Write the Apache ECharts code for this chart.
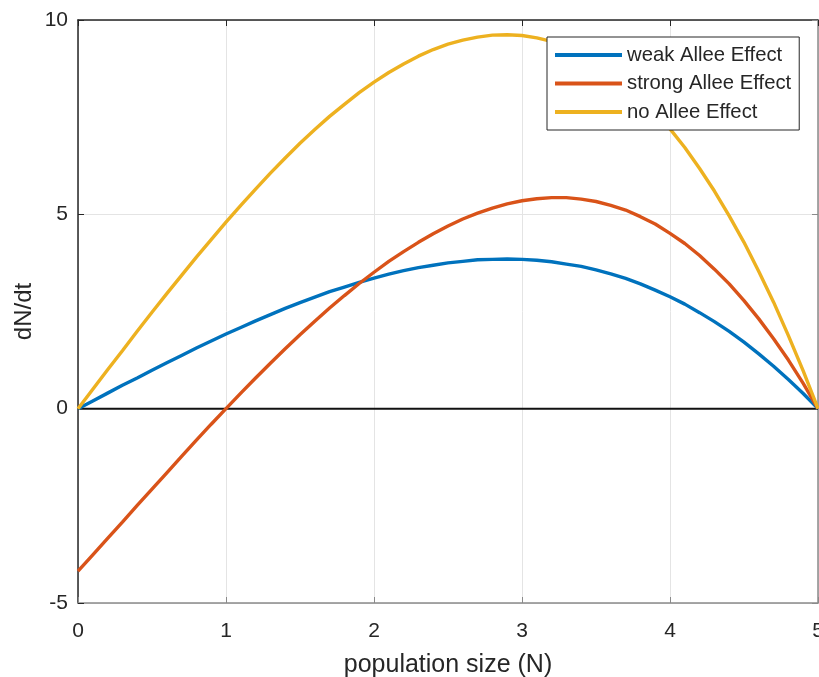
<!DOCTYPE html>
<html>
<head>
    <meta charset="utf-8">
    <title>Allee effect</title>
    <script src="https://cdn.jsdelivr.net/npm/echarts@6/dist/echarts.min.js"></script>
    <style>
        html, body { margin: 0; padding: 0; background: #fff; }
    </style>
</head>
<body>
<div id="main" style="width: 819px; height: 677px;"></div>
<script>
    // population size N, every 0.1
    var popSize = [0, 0.1, 0.2, 0.3, 0.4, 0.5, 0.6, 0.7, 0.8, 0.9,
        1, 1.1, 1.2, 1.3, 1.4, 1.5, 1.6, 1.7, 1.8, 1.9,
        2, 2.1, 2.2, 2.3, 2.4, 2.5, 2.6, 2.7, 2.8, 2.9,
        3, 3.1, 3.2, 3.3, 3.4, 3.5, 3.6, 3.7, 3.8, 3.9,
        4, 4.1, 4.2, 4.3, 4.4, 4.5, 4.6, 4.7, 4.8, 4.9, 5];
    var weakAllee = [0, 0.20, 0.40, 0.60, 0.79, 0.99, 1.18, 1.37, 1.56, 1.74,
        1.92, 2.09, 2.26, 2.42, 2.58, 2.73, 2.87, 3.01, 3.13, 3.25,
        3.36, 3.46, 3.55, 3.63, 3.69, 3.75, 3.79, 3.83, 3.84, 3.85,
        3.84, 3.82, 3.78, 3.72, 3.66, 3.57, 3.47, 3.35, 3.21, 3.05,
        2.88, 2.69, 2.47, 2.24, 1.99, 1.71, 1.41, 1.09, 0.75, 0.39, 0];
    var strongAllee = [-4.18, -3.76, -3.34, -2.92, -2.49, -2.07, -1.65, -1.23, -0.81, -0.40,
        0, 0.40, 0.79, 1.17, 1.54, 1.90, 2.25, 2.59, 2.91, 3.22,
        3.51, 3.79, 4.04, 4.28, 4.50, 4.70, 4.88, 5.03, 5.16, 5.27,
        5.35, 5.40, 5.43, 5.43, 5.39, 5.33, 5.23, 5.11, 4.94, 4.75,
        4.51, 4.25, 3.94, 3.59, 3.21, 2.78, 2.31, 1.80, 1.25, 0.65, 0];
    var noAllee = [0, 0.50, 1.00, 1.49, 1.99, 2.48, 2.96, 3.43, 3.90, 4.35,
        4.80, 5.23, 5.65, 6.06, 6.45, 6.83, 7.18, 7.52, 7.83, 8.13,
        8.40, 8.65, 8.87, 9.07, 9.24, 9.38, 9.48, 9.56, 9.61, 9.62,
        9.60, 9.54, 9.45, 9.31, 9.14, 8.93, 8.67, 8.37, 8.03, 7.64,
        7.20, 6.72, 6.18, 5.60, 4.96, 4.28, 3.53, 2.74, 1.88, 0.97, 0];
    var zeroLineX = [0, 5];
    var xTicks = [0, 5, 1];     // min, max, step
    var yTicks = [-5, 10, 5];

    function pairs(xs, ys) {
        return xs.map(function (x, i) { return [x, ys[i]]; });
    }

    var font = "'Liberation Sans', Arial, Helvetica, sans-serif";
    var dark = '#262626';
    var gray = '#8a8a8a';

    var myChart = echarts.init(document.getElementById('main'));

    var option = {
        animation: false,
        backgroundColor: '#fff',
        grid: { left: 78, right: 1, top: 20, bottom: 74, containLabel: false, outerBoundsMode: 'none' },
        legend: {
            orient: 'vertical',
            left: 547,
            top: 37,
            z: 20,
            padding: [8, 8, 8, 8],
            itemWidth: 67,
            itemHeight: 4,
            itemGap: 8.5,
            icon: 'rect',
            backgroundColor: '#fff',
            borderColor: dark,
            borderWidth: 1,
            borderRadius: 0,
            textStyle: { fontFamily: font, fontSize: 20.3, color: dark, lineHeight: 19 },
            data: ['weak Allee Effect', 'strong Allee Effect', 'no Allee Effect']
        },
        xAxis: [{
            type: 'value',
            min: xTicks[0], max: xTicks[1], interval: xTicks[2],
            name: 'population size (N)',
            nameLocation: 'middle',
            nameGap: 50,
            nameMoveOverlap: false,
            nameTextStyle: { fontFamily: font, fontSize: 25, color: dark },
            axisLine: { show: true, onZero: false, lineStyle: { color: gray, width: 1.5 } },
            axisTick: { show: true, inside: true, length: 6, lineStyle: { color: gray } },
            axisLabel: { fontFamily: font, fontSize: 21, color: dark, margin: 18 },
            splitLine: { show: true, lineStyle: { color: '#e4e4e4', width: 1 } }
        }, {
            type: 'value',
            position: 'top',
            min: xTicks[0], max: xTicks[1], interval: xTicks[2],
            axisLine: { show: true, onZero: false, lineStyle: { color: dark, width: 1.5 } },
            axisTick: { show: true, inside: true, length: 6, lineStyle: { color: dark } },
            axisLabel: { show: false },
            splitLine: { show: false }
        }],
        yAxis: [{
            type: 'value',
            min: yTicks[0], max: yTicks[1], interval: yTicks[2],
            name: 'dN/dt',
            nameLocation: 'middle',
            nameGap: 42,
            nameMoveOverlap: false,
            nameTextStyle: { fontFamily: font, fontSize: 24, color: dark },
            axisLine: { show: true, onZero: false, lineStyle: { color: dark, width: 1.5 } },
            axisTick: { show: true, inside: true, length: 6, lineStyle: { color: dark } },
            axisLabel: { fontFamily: font, fontSize: 21, color: dark, margin: 10 },
            splitLine: { show: true, lineStyle: { color: '#e4e4e4', width: 1 } }
        }, {
            type: 'value',
            position: 'right',
            min: yTicks[0], max: yTicks[1], interval: yTicks[2],
            axisLine: { show: true, onZero: false, lineStyle: { color: gray, width: 1.5 } },
            axisTick: { show: true, inside: true, length: 6, lineStyle: { color: gray } },
            axisLabel: { show: false },
            splitLine: { show: false }
        }],
        series: [{
            name: 'zero',
            type: 'line',
            data: pairs(zeroLineX, [0, 0]),
            symbol: 'none',
            lineStyle: { color: '#111', width: 2 },
            silent: true,
            z: 2
        }, {
            name: 'weak Allee Effect',
            type: 'line',
            data: pairs(popSize, weakAllee),
            symbol: 'none',
            color: '#0072BD',
            lineStyle: { width: 3.4 },
            z: 3
        }, {
            name: 'strong Allee Effect',
            type: 'line',
            data: pairs(popSize, strongAllee),
            symbol: 'none',
            color: '#D95319',
            lineStyle: { width: 3.4 },
            z: 3
        }, {
            name: 'no Allee Effect',
            type: 'line',
            data: pairs(popSize, noAllee),
            symbol: 'none',
            color: '#EDB120',
            lineStyle: { width: 3.4 },
            z: 3
        }]
    };

    myChart.setOption(option);
</script>
</body>
</html>
